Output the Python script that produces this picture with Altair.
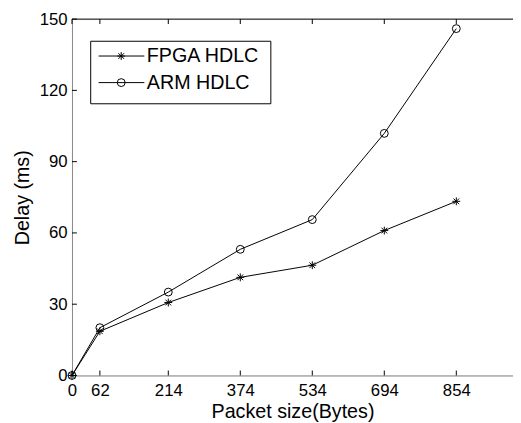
import altair as alt
import pandas as pd

# ---- data ----
sizes = [0, 62, 214, 374, 534, 694, 854]
fpga_delay = [0, 18.6, 30.7, 41.3, 46.4, 61.0, 73.3]
arm_delay = [0, 20.1, 35.1, 53.1, 65.6, 101.9, 146.0]
series_names = ["FPGA HDLC", "ARM HDLC"]
x_ticks = [0, 62, 214, 374, 534, 694, 854]
y_ticks = [0, 30, 60, 90, 120, 150]

df = pd.DataFrame({
    "size": sizes + sizes,
    "delay": fpga_delay + arm_delay,
    "series": [series_names[0]] * len(sizes) + [series_names[1]] * len(sizes),
})

FONT = "Liberation Sans"
W, H = 448, 362
X_MAX = 980
xs = alt.Scale(domain=[0, X_MAX], nice=False, zero=False)
ys = alt.Scale(domain=[0, 150], nice=False)

STAR = "M-1,0L1,0M0,-1L0,1M-0.72,-0.72L0.72,0.72M-0.72,0.72L0.72,-0.72"
shape_scale = alt.Scale(domain=series_names, range=[STAR, "circle"])

x_axis = alt.Axis(values=x_ticks, title="Packet size(Bytes)", ticks=False, grid=False,
                  labelPadding=7, labelFontSize=17, titleFontSize=20,
                  titleFontWeight="normal", titleFont=FONT, labelFont=FONT,
                  titleY=43, titleBaseline="alphabetic", labelFlush=False)
y_axis = alt.Axis(values=y_ticks, title="Delay (ms)", ticks=False, grid=False,
                  labelPadding=5, labelFontSize=17, titleFontSize=20,
                  titleFontWeight="normal", titleFont=FONT, labelFont=FONT,
                  titleX=-44, titleBaseline="alphabetic")

base = alt.Chart(df)
lines = base.mark_line(color="black", strokeWidth=1).encode(
    x=alt.X("size:Q", scale=xs, axis=x_axis),
    y=alt.Y("delay:Q", scale=ys, axis=y_axis),
    detail="series:N",
)
points = base.mark_point(color="black", filled=False, strokeWidth=1, size=64, opacity=1).encode(
    x=alt.X("size:Q", scale=xs),
    y=alt.Y("delay:Q", scale=ys),
    shape=alt.Shape("series:N", scale=shape_scale, legend=None),
)

# inward tick marks (MATLAB style)
xt = alt.Chart(pd.DataFrame({"t": x_ticks}))
yt = alt.Chart(pd.DataFrame({"t": y_ticks}))
TL = 5
xticks_bottom = xt.mark_rule(color="black", strokeWidth=1).encode(
    x=alt.X("t:Q", scale=xs), y=alt.value(H), y2=alt.value(H - TL))
xticks_top = xt.mark_rule(color="black", strokeWidth=1).encode(
    x=alt.X("t:Q", scale=xs), y=alt.value(0), y2=alt.value(TL))
yticks_left = yt.mark_rule(color="black", strokeWidth=1).encode(
    y=alt.Y("t:Q", scale=ys), x=alt.value(0), x2=alt.value(TL))
top_border = alt.Chart(pd.DataFrame({"a": [0]})).mark_rule(color="black", strokeWidth=1).encode(
    x=alt.value(0), x2=alt.value(W), y=alt.value(0))

# legend box drawn by hand
one = alt.Chart(pd.DataFrame({"a": [0]}))
LX0, LX1, LY0, LY1 = 19, 202, 22.5, 86
legend_box = one.mark_rect(fill="white", stroke="black", strokeWidth=1).encode(
    x=alt.value(LX0), x2=alt.value(LX1), y=alt.value(LY0), y2=alt.value(LY1))
legend_layers = [legend_box]
row_y = [37.5, 64.5]
legend_shapes = [STAR, "circle"]
for name, ry, shp in zip(series_names, row_y, legend_shapes):
    legend_layers.append(one.mark_rule(color="black", strokeWidth=1).encode(
        x=alt.value(27), x2=alt.value(73.5), y=alt.value(ry)))
    legend_layers.append(one.mark_point(shape=shp, color="black", filled=False, size=64,
                                        strokeWidth=1, opacity=1).encode(
        x=alt.value(50), y=alt.value(ry)))
    legend_layers.append(one.mark_text(text=name, align="left", baseline="middle",
                                       font=FONT, fontSize=20, color="black").encode(
        x=alt.value(76), y=alt.value(ry)))

chart = alt.layer(
    lines, points, xticks_bottom, xticks_top, yticks_left, top_border, *legend_layers
).properties(
    width=W, height=H,
    autosize=alt.AutoSizeParams(type="none"),
    padding={"left": 65, "top": 8, "right": 0, "bottom": 45},
).configure_view(stroke=None).configure_axis(
    domainColor="black", domainWidth=1, labelColor="black", titleColor="black",
    labelFont=FONT, titleFont=FONT, titleFontWeight="normal",
).configure(background="white")

chart.save("out.html", embed_options={"renderer": "svg", "actions": False})
